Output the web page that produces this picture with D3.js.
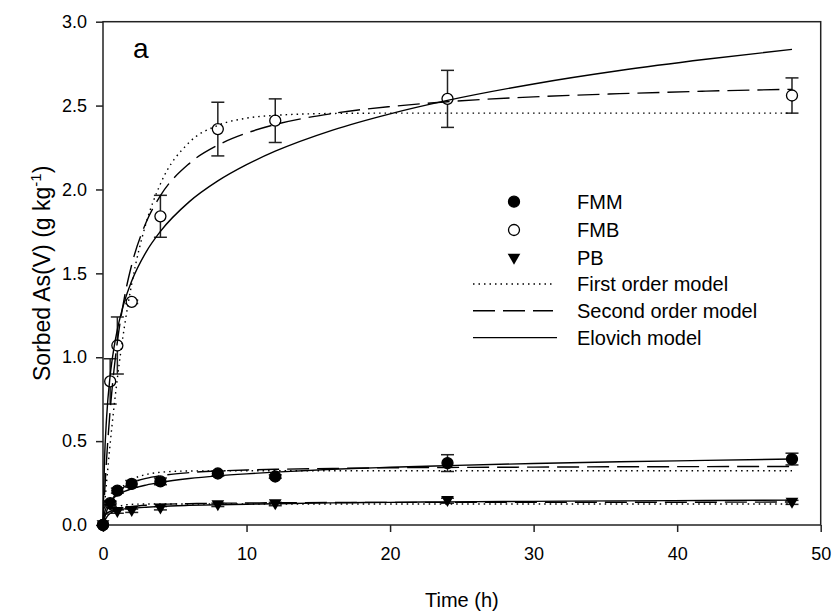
<!DOCTYPE html>
<html>
<head>
<meta charset="utf-8">
<script src="https://cdnjs.cloudflare.com/ajax/libs/d3/7.8.5/d3.min.js"></script>
<style>
	body{margin:0;background:#fff;}
	svg text{font-family:"Liberation Sans",Arial,sans-serif;fill:#000;}
</style>
</head>
<body>
<svg id="vis" width="833" height="611"></svg>
<script>
// measured points (h, g/kg)
var times = [0,0.5,1,2,4,8,12,24,48];
var fmm = [0,0.13,0.205,0.245,0.26,0.307,0.289,0.369,0.393];
var fmmErr = [0,0.01,0.015,0.02,0.02,0.015,0.01,0.05,0.035];
var fmb = [0,0.856,1.07,1.33,1.84,2.36,2.41,2.54,2.56];
var fmbErr = [0,0.135,0.17,0.01,0.125,0.16,0.13,0.17,0.105];
var pb = [0,0.12,0.08,0.085,0.1,0.12,0.125,0.145,0.135];
var pbErr = [0,0.01,0.01,0.01,0.01,0.01,0.01,0.015,0.012];

// model curves
var modelTimes = [0,0.1,0.25,0.5,0.75,1,1.5,2,3,4,6,8,10,12,16,20,24,30,36,42,48];
var fmbFirst = [0,0.106,0.256,0.485,0.690,0.874,1.186,1.437,1.799,2.033,2.280,2.382,2.425,2.442,2.453,2.455,2.455,2.455,2.455,2.455,2.455];
var fmbSecond = [0,0.173,0.393,0.686,0.912,1.092,1.360,1.551,1.803,1.963,2.154,2.264,2.336,2.387,2.453,2.494,2.523,2.552,2.571,2.586,2.597];
var fmbElovich = [0,0.369,0.640,0.891,1.049,1.165,1.333,1.454,1.627,1.750,1.926,2.051,2.148,2.228,2.354,2.451,2.531,2.629,2.709,2.776,2.835];
var fmmFirst = [0,0.028,0.065,0.117,0.159,0.192,0.239,0.270,0.301,0.314,0.322,0.323,0.323,0.323,0.323,0.323,0.323,0.323,0.323,0.323,0.323];
var fmmSecond = [0,0.038,0.082,0.133,0.168,0.194,0.228,0.251,0.278,0.294,0.312,0.322,0.328,0.332,0.337,0.341,0.343,0.345,0.347,0.348,0.349];
var fmmElovich = [0,0.067,0.107,0.142,0.163,0.178,0.200,0.216,0.238,0.254,0.277,0.293,0.305,0.315,0.332,0.344,0.354,0.367,0.377,0.385,0.393];
var pbFirst = [0,0.023,0.049,0.079,0.097,0.108,0.119,0.123,0.125,0.125,0.125,0.125,0.125,0.125,0.125,0.125,0.125,0.125,0.125,0.125,0.125];
var pbSecond = [0,0.023,0.046,0.069,0.083,0.092,0.104,0.110,0.118,0.123,0.127,0.130,0.131,0.133,0.134,0.135,0.135,0.136,0.136,0.136,0.137];
var pbElovich = [0,0.056,0.069,0.080,0.086,0.090,0.096,0.100,0.106,0.111,0.117,0.121,0.124,0.127,0.132,0.135,0.138,0.141,0.144,0.146,0.148];

var xTicks = [0,10,20,30,40,50];
var yTicks = [0,0.5,1,1.5,2,2.5,3];
var seriesNames = ['FMM','FMB','PB'];
var modelNames = ['First order model','Second order model','Elovich model'];

window.onload = function(){

	var chart = {
		w:833,
		h:611,
		m:{top:21.7,right:12.3,bottom:86,left:103},
		dash:{first:'1.5,4',second:'22,8',elovich:null},

		draw:function(){
			var self = this,
				iw = self.w -self.m.left -self.m.right,
				ih = self.h -self.m.top -self.m.bottom;

			var svg = d3.select('#vis');
			var g = svg.append('g')
				.attr('transform','translate(' +self.m.left +',' +self.m.top +')');

			var x = d3.scaleLinear().domain([0,50]).range([0,iw]),
				y = d3.scaleLinear().domain([0,3]).range([ih,0]);

			// axes
			var xAxis = g.append('g')
				.attr('transform','translate(0,' +ih +')')
				.call(d3.axisBottom(x).tickValues(xTicks).tickSize(7).tickPadding(15).tickFormat(d3.format('d')));
			var yAxis = g.append('g')
				.call(d3.axisLeft(y).tickValues(yTicks).tickSize(7).tickPadding(9).tickFormat(d3.format('.1f')));
			[xAxis,yAxis].forEach(function(a){
				a.select('.domain').remove();
				a.selectAll('line').attr('stroke','#222').attr('stroke-width',1.5);
				a.selectAll('text').attr('font-size',18).attr('fill','#000')
					.style('font-family','"Liberation Sans",Arial,sans-serif');
			});

			g.append('rect')
				.attr('width',iw).attr('height',ih)
				.attr('fill','none').attr('stroke','#222').attr('stroke-width',1.5);

			svg.append('text')
				.attr('x',self.m.left +iw/2).attr('y',607)
				.attr('text-anchor','middle').attr('font-size',20)
				.text('Time (h)');

			var yt = svg.append('text')
				.attr('transform','translate(50,' +(self.m.top +ih/2) +') rotate(-90)')
				.attr('text-anchor','middle').attr('font-size',23);
			yt.append('tspan').text('Sorbed As(V) (g kg');
			yt.append('tspan').attr('font-size',15).attr('dy',-9).text('-1');
			yt.append('tspan').attr('dy',9).text(')');

			g.append('text')
				.attr('x',30).attr('y',36)
				.attr('font-size',28)
				.text('a');

			// data
			var sets = [
				{name:seriesNames[0],v:fmm,e:fmmErr,sym:'dot',models:[fmmFirst,fmmSecond,fmmElovich]},
				{name:seriesNames[1],v:fmb,e:fmbErr,sym:'ring',models:[fmbFirst,fmbSecond,fmbElovich]},
				{name:seriesNames[2],v:pb,e:pbErr,sym:'tri',models:[pbFirst,pbSecond,pbElovich]}
			];
			var dashes = [self.dash.first,self.dash.second,self.dash.elovich];

			var line = d3.line()
				.x(function(d){ return x(d[0]); })
				.y(function(d){ return y(d[1]); })
				.curve(d3.curveMonotoneX);

			var tri = d3.symbol().type(d3.symbolTriangle).size(70);

			// open circles first so the filled marks sit on top at the origin
			[sets[1],sets[0],sets[2]].forEach(function(s){
				var pts = times.map(function(t,i){ return {t:t,v:s.v[i],e:s.e[i]}; });

				var eb = g.append('g').selectAll('g.eb')
					.data(pts.filter(function(d){ return d.e > 0; }))
					.enter().append('g').classed('eb',true)
					.attr('stroke','#222').attr('stroke-width',1.5);
				eb.append('line')
					.attr('x1',function(d){ return x(d.t); }).attr('x2',function(d){ return x(d.t); })
					.attr('y1',function(d){ return y(d.v +d.e); }).attr('y2',function(d){ return y(d.v -d.e); });
				eb.append('line')
					.attr('x1',function(d){ return x(d.t) -6.5; }).attr('x2',function(d){ return x(d.t) +6.5; })
					.attr('y1',function(d){ return y(d.v +d.e); }).attr('y2',function(d){ return y(d.v +d.e); });
				eb.append('line')
					.attr('x1',function(d){ return x(d.t) -6.5; }).attr('x2',function(d){ return x(d.t) +6.5; })
					.attr('y1',function(d){ return y(d.v -d.e); }).attr('y2',function(d){ return y(d.v -d.e); });

				self.marker(g.append('g'),pts.map(function(d){ return [x(d.t),y(d.v)]; }),s.sym,tri);

				s.models.forEach(function(m,k){
					g.append('path')
						.datum(modelTimes.map(function(t,i){ return [t,m[i]]; }))
						.attr('d',line)
						.attr('fill','none')
						.attr('stroke','#000')
						.attr('stroke-width',1.4)
						.attr('stroke-dasharray',dashes[k]);
				});
			});

			// legend
			var lg = svg.append('g');
			sets.forEach(function(s,i){
				var ly = 201.7 +i*28.3;
				self.marker(lg.append('g'),[[514,ly]],s.sym,tri);
				lg.append('text').attr('x',577).attr('y',ly +7).attr('font-size',20).text(s.name);
			});
			modelNames.forEach(function(n,k){
				var ly = 284 +k*26.8;
				lg.append('line')
					.attr('x1',473).attr('x2',k === 2 ? 557 : 553)
					.attr('y1',ly).attr('y2',ly)
					.attr('stroke','#000').attr('stroke-width',1.4)
					.attr('stroke-dasharray',dashes[k]);
				lg.append('text').attr('x',577).attr('y',ly +7).attr('font-size',20).text(n);
			});
		},
		marker:function(sel,xy,sym,tri){
			var m;
			if(sym === 'tri'){
				m = sel.selectAll('path.mk').data(xy).enter().append('path')
					.classed('mk',true)
					.attr('d',tri)
					.attr('transform',function(d){ return 'translate(' +d[0] +',' +(d[1] -1) +') rotate(180)'; })
					.attr('fill','#000');
			} else {
				m = sel.selectAll('circle.mk').data(xy).enter().append('circle')
					.classed('mk',true)
					.attr('cx',function(d){ return d[0]; })
					.attr('cy',function(d){ return d[1]; })
					.attr('r',5.5)
					.attr('fill',sym === 'dot' ? '#000' : '#fff')
					.attr('stroke','#000')
					.attr('stroke-width',1.3);
			}
			return m;
		}
	};

	chart.draw();
};
</script>
</body>
</html>
